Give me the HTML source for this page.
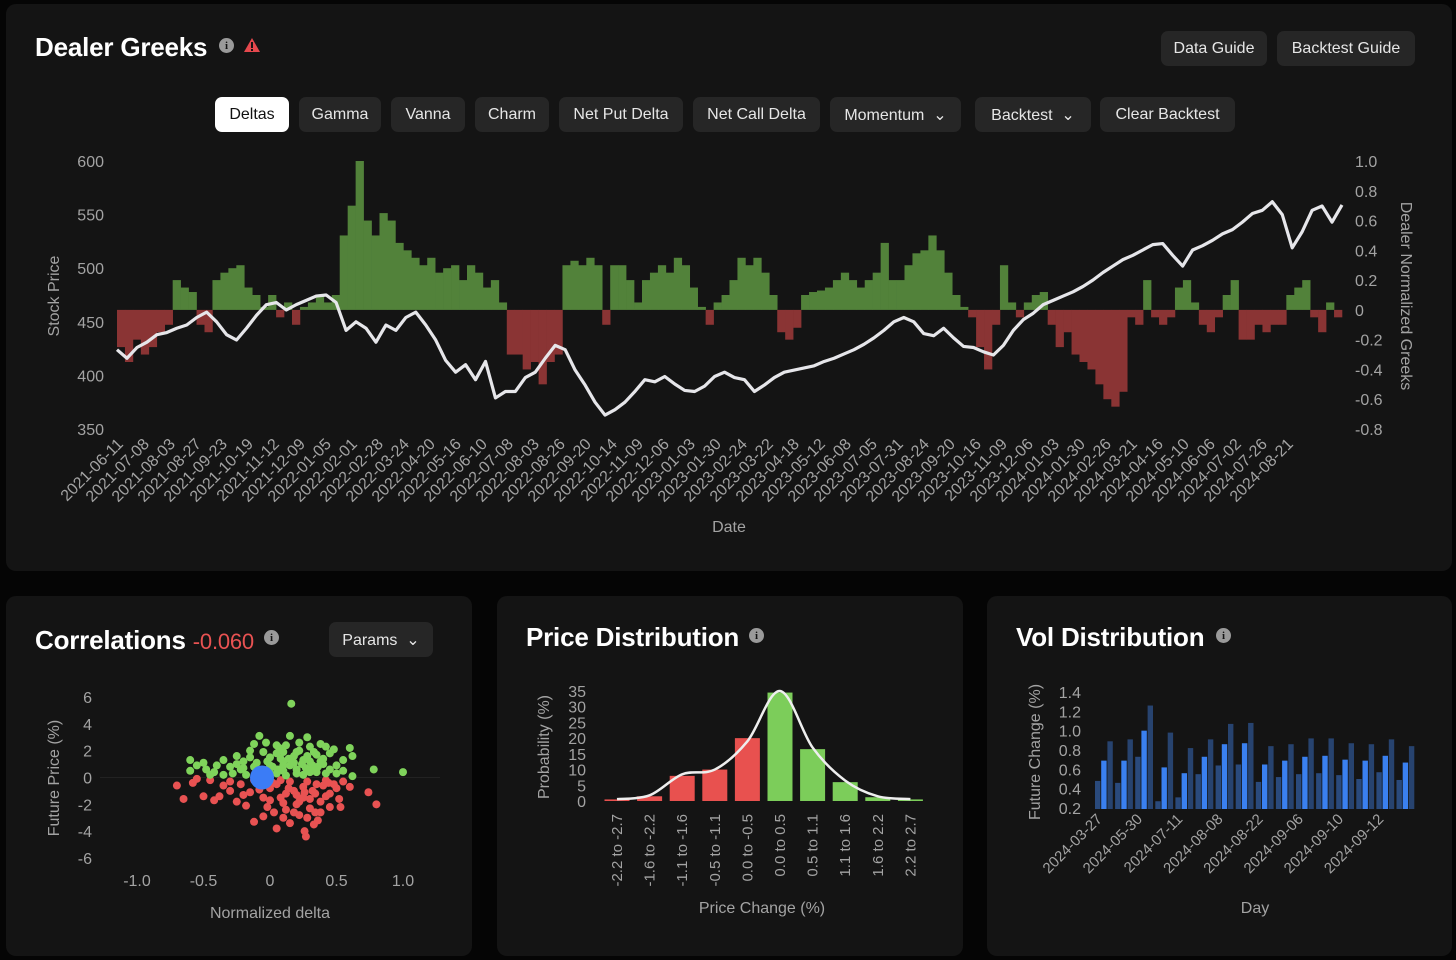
<!DOCTYPE html>
<html><head><meta charset="utf-8">
<style>
*{box-sizing:border-box;margin:0;padding:0}
body{width:1456px;height:960px;background:#050505;font-family:"Liberation Sans",sans-serif;overflow:hidden;position:relative}
.panel{position:absolute;background:#141414;border-radius:10px}
.btn{position:absolute;background:#262626;color:#e6e6e6;border-radius:7px;font-size:16px;display:flex;align-items:center;justify-content:center;height:35px}
.btn.active{background:#fff;color:#111}
.title{position:absolute;color:#fff;font-weight:bold;font-size:26px;letter-spacing:-0.2px}
.info{position:absolute;width:15px;height:15px;border-radius:50%;background:#9a9a9a;color:#141414;font-size:11px;font-weight:bold;display:flex;align-items:center;justify-content:center;font-family:"Liberation Serif",serif}
svg{position:absolute;left:0;top:0}
</style></head><body>
<div class="panel" style="left:6px;top:4px;width:1446px;height:567px"></div>
<div class="panel" style="left:6px;top:596px;width:466px;height:360px"></div>
<div class="panel" style="left:497px;top:596px;width:466px;height:360px"></div>
<div class="panel" style="left:987px;top:596px;width:465px;height:360px"></div>

<div class="title" style="left:35px;top:32px">Dealer Greeks</div>
<div class="info" style="left:219px;top:38px">i</div>
<svg style="left:243px;top:37px" width="18" height="16"><polygon points="9,1 17,15 1,15" fill="#e5484d"/><rect x="8" y="5" width="2" height="6" fill="#141414"/><rect x="8" y="12" width="2" height="2" fill="#141414"/></svg>
<div class="btn" style="left:1161px;top:31px;width:106px">Data Guide</div>
<div class="btn" style="left:1277px;top:31px;width:138px">Backtest Guide</div>

<div class="btn active" style="left:215px;top:97px;width:74px">Deltas</div>
<div class="btn" style="left:299px;top:97px;width:82px">Gamma</div>
<div class="btn" style="left:391px;top:97px;width:74px">Vanna</div>
<div class="btn" style="left:475px;top:97px;width:74px">Charm</div>
<div class="btn" style="left:559px;top:97px;width:124px">Net Put Delta</div>
<div class="btn" style="left:693px;top:97px;width:127px">Net Call Delta</div>
<div class="btn" style="left:830px;top:97px;width:131px">Momentum&nbsp;&nbsp;⌄</div>
<div class="btn" style="left:975px;top:97px;width:116px">Backtest&nbsp;&nbsp;⌄</div>
<div class="btn" style="left:1100px;top:97px;width:135px">Clear Backtest</div>

<div class="title" style="left:35px;top:625px">Correlations <span style="color:#e85252;font-weight:normal;font-size:22px">-0.060</span></div>
<div class="info" style="left:264px;top:630px">i</div>
<div class="btn" style="left:329px;top:622px;width:104px">Params&nbsp;&nbsp;⌄</div>
<div class="title" style="left:526px;top:622px">Price Distribution</div>
<div class="info" style="left:749px;top:628px">i</div>
<div class="title" style="left:1016px;top:622px">Vol Distribution</div>
<div class="info" style="left:1216px;top:628px">i</div>

<svg id="chart" width="1456" height="960"></svg>

<script>
// ===== Main chart data =====
const priceValues=[424,416,426,431,438,440,444,447,454,459,450,438,433,444,456,466,468,461,466,470,474,475,468,442,450,444,431,447,442,454,459,447,433,414,403,410,396,413,379,385,385,398,403,416,428,424,405,391,375,363,368,375,385,396,394,399,392,386,385,390,399,403,398,396,385,391,398,403,405,407,409,413,416,420,424,429,435,442,450,454,450,439,437,444,435,427,426,422,419,428,442,452,458,466,470,474,478,483,489,496,502,508,512,517,522,523,512,502,517,521,526,532,536,543,551,554,562,550,519,534,554,558,543,559];
const deltaValues=[-0.25,-0.35,-0.2,-0.3,-0.25,-0.15,-0.1,0.2,0.15,0.12,-0.1,-0.15,0.2,0.25,0.28,0.3,0.15,0.1,0.02,0.1,-0.05,0.05,-0.1,0.02,0.05,0.1,0.05,0.1,0.5,0.7,1.0,0.6,0.5,0.65,0.6,0.45,0.4,0.35,0.3,0.35,0.25,0.28,0.3,0.2,0.3,0.25,0.15,0.2,0.05,-0.3,-0.3,-0.4,-0.35,-0.5,-0.35,-0.3,0.3,0.33,0.3,0.35,0.3,-0.1,0.3,0.3,0.2,0.05,0.2,0.25,0.3,0.25,0.35,0.3,0.15,0.02,-0.1,0.05,0.1,0.2,0.35,0.3,0.35,0.25,0.1,-0.15,-0.2,-0.12,0.1,0.12,0.13,0.15,0.2,0.25,0.2,0.15,0.2,0.25,0.45,0.2,0.2,0.3,0.38,0.4,0.5,0.4,0.25,0.1,0.02,-0.05,-0.25,-0.4,-0.1,0.3,0.05,-0.05,0.05,0.1,0.12,-0.1,-0.25,-0.15,-0.3,-0.35,-0.4,-0.5,-0.6,-0.65,-0.55,-0.05,-0.1,0.2,-0.05,-0.1,-0.05,0.15,0.2,0.05,-0.1,-0.15,-0.05,0.1,0.2,-0.2,-0.2,-0.1,-0.15,-0.1,-0.1,0.1,0.15,0.2,-0.05,-0.15,0.05,-0.05];
const dateLabels=["2021-06-11","2021-07-08","2021-08-03","2021-08-27","2021-09-23","2021-10-19","2021-11-12","2021-12-09","2022-01-05","2022-02-01","2022-02-28","2022-03-24","2022-04-20","2022-05-16","2022-06-10","2022-07-08","2022-08-03","2022-08-26","2022-09-20","2022-10-14","2022-11-09","2022-12-06","2023-01-03","2023-01-30","2023-02-24","2023-03-22","2023-04-18","2023-05-12","2023-06-08","2023-07-05","2023-07-31","2023-08-24","2023-09-20","2023-10-16","2023-11-09","2023-12-06","2024-01-03","2024-01-30","2024-02-26","2024-03-21","2024-04-16","2024-05-10","2024-06-06","2024-07-02","2024-07-26","2024-08-21"];
const priceTicks=[600,550,500,450,400,350];
const greekTicks=[1.0,0.8,0.6,0.4,0.2,0,-0.2,-0.4,-0.6,-0.8];
// ===== Scatter data =====
const greenX=[-0.6,-0.6,-0.55,-0.5,-0.48,-0.42,-0.4,-0.35,-0.3,-0.28,-0.25,-0.22,-0.2,-0.18,-0.15,-0.12,-0.1,-0.08,-0.05,-0.03,0,0.02,0.05,0.07,0.1,0.12,0.15,0.16,0.18,0.2,0.22,0.25,0.28,0.3,0.32,0.35,0.38,0.4,0.42,0.45,0.48,0.5,0.55,0.6,0.62,0.62,0.78,1.0,-0.35,-0.2,0.05,0.1,0.25,0.35,0.45,-0.1,0,0.15,0.3,0.2,-0.05,0.08,0.4,-0.25,0.27,0.12,-0.15,0.05,0.22,0.33,0.5,-0.45,0.55,0.18,-0.02,0.1,0.36,0.28,0.42,0.0,0.06,0.14,0.24,0.32,0.38,-0.12,0.2,0.1,0.3];
const greenY=[1.3,0.5,0.9,1.1,0.6,0.4,0.9,1.3,0.8,0.3,1.6,0.6,1.2,0.2,2.0,2.5,1.1,3.1,0.5,2.6,1.5,0.8,1.8,2.2,1.2,2.4,3.1,5.5,1.6,0.6,2.0,1.3,3.0,2.3,0.9,1.7,2.5,1.0,0.3,1.8,2.1,0.9,1.3,2.2,1.6,0.1,0.6,0.4,0.2,0.7,0.3,0.5,0.2,0.4,0.6,0.4,0.9,0.9,1.2,1.9,1.9,1.4,1.4,1.0,0.7,0.15,1.5,2.4,2.6,1.9,0.3,0.2,0.5,1.1,1.2,1.9,0.8,1.6,2.3,0.3,0.6,1.4,1.0,0.5,1.2,0.8,0.3,0.9,0.4];
const redX=[-0.7,-0.65,-0.58,-0.5,-0.45,-0.42,-0.38,-0.35,-0.3,-0.25,-0.22,-0.18,-0.15,-0.12,-0.1,-0.05,-0.02,0,0.03,0.05,0.08,0.1,0.12,0.15,0.18,0.2,0.22,0.25,0.26,0.27,0.28,0.3,0.32,0.33,0.34,0.36,0.38,0.4,0.42,0.45,0.5,0.52,0.53,0.55,0.6,0.74,0.8,-0.55,-0.3,-0.08,0.05,0.15,0.2,0.35,0.1,0.25,0.45,-0.2,0.3,0,0.38,0.18,-0.05,0.42,0.12,0.28,0.48,0.08,-0.12,0.22,0.02,0.14,0.26,0.34,0.44];
const redY=[-0.6,-1.6,-0.4,-1.4,-0.2,-1.7,-1.4,-0.6,-1.0,-1.8,-0.5,-2.1,-1.1,-3.3,-0.4,-1.5,-2.2,-0.8,-2.6,-3.8,-1.5,-3.0,-2.4,-3.4,-1.0,-2.0,-2.8,-1.5,-4.0,-4.4,-3.0,-2.3,-1.0,-3.5,-2.6,-3.2,-1.8,-0.6,-1.4,-2.2,-0.8,-1.6,-2.2,-0.3,-0.7,-1.1,-2.0,-0.1,-0.3,-0.9,-0.5,-0.3,-1.3,-0.5,-1.9,-0.7,-1.2,-1.3,-1.6,-1.7,-2.6,-2.6,-2.9,-0.2,-1.2,-0.3,-0.5,-0.2,-0.2,-1.8,-0.4,-0.8,-1.1,-1.2,-0.4];
const meanX=[-0.06], meanY=[0];
const scatterXTicks=[-1.0,-0.5,0,0.5,1.0], scatterYTicks=[6,4,2,0,-2,-4,-6];
// ===== Price distribution data =====
const binLabels=["-2.2 to -2.7","-1.6 to -2.2","-1.1 to -1.6","-0.5 to -1.1","0.0 to -0.5","0.0 to 0.5","0.5 to 1.1","1.1 to 1.6","1.6 to 2.2","2.2 to 2.7"];
const binValues=[0.5,1.5,8,10,20,34.5,16.5,6,1.2,0.5];
const curveValues=[0.6,1.8,8.5,10,19,35,17,6.5,1.5,0.6];
const probTicks=[35,30,25,20,15,10,5,0];
// ===== Vol distribution data =====
const volLow=[0.48,0.46,0.73,0.27,0.31,0.55,0.64,0.65,0.47,0.52,0.55,0.56,0.54,0.50,0.57,0.49];
const volMid=[0.69,0.69,1.0,0.62,0.56,0.73,0.86,0.87,0.65,0.69,0.73,0.74,0.70,0.69,0.74,0.67];
const volHigh=[0.89,0.91,1.26,0.98,0.82,0.91,1.07,1.08,0.84,0.86,0.92,0.92,0.87,0.86,0.91,0.84];
const volDayLabels=["2024-03-27","2024-05-30","2024-07-11","2024-08-08","2024-08-22","2024-09-06","2024-09-10","2024-09-12"];
const volTicks=[1.4,1.2,1.0,0.8,0.6,0.4,0.2];

const svg=document.getElementById('chart');
const NS='http://www.w3.org/2000/svg';
function mk(tag,attrs,parent){const e=document.createElementNS(NS,tag);for(const k in attrs)e.setAttribute(k,attrs[k]);(parent||svg).appendChild(e);return e;}
function txt(s,attrs,parent){const e=mk('text',Object.assign({fill:'#a3a3a3','font-size':16,'font-family':'Liberation Sans, sans-serif'},attrs),parent);e.textContent=s;return e;}
function lin(d0,d1,r0,r1){return v=>r0+(v-d0)/(d1-d0)*(r1-r0);}
function smooth(pts){let d='M'+pts[0][0]+','+pts[0][1];for(let i=0;i<pts.length-1;i++){const p0=pts[i-1]||pts[i],p1=pts[i],p2=pts[i+1],p3=pts[i+2]||p2;d+=' C'+(p1[0]+(p2[0]-p0[0])/6)+','+(p1[1]+(p2[1]-p0[1])/6)+' '+(p2[0]-(p3[0]-p1[0])/6)+','+(p2[1]-(p3[1]-p1[1])/6)+' '+p2[0]+','+p2[1];}return d;}

// ---- Main chart ----
const mg=mk('g',{});


const X0=117,X1=1342;
const yP=lin(350,600,429,161), yG=lin(-0.8,1.0,429,161);
priceTicks.forEach(t=>{const e=txt(String(t),{x:104,y:yP(t)+6,'text-anchor':'end'},mg);});
greekTicks.forEach(t=>{const e=txt(t===0?'0':t.toFixed(1),{x:1355,y:yG(t)+6},mg);});
const bw=(X1-X0)/deltaValues.length;
const bars=mk('g',{},mg);


deltaValues.forEach((v,i)=>{const y0=yG(0),y1=yG(v);const r=mk('rect',{x:X0+i*bw,y:Math.min(y0,y1),width:bw+0.3,height:Math.abs(y1-y0),fill:v>=0?'#52823a':'#8a3434'},bars);});
const step=(X1-X0)/(priceValues.length-1);
const pl=mk('polyline',{points:priceValues.map((v,i)=>(X0+i*step)+','+yP(v)).join(' '),fill:'none',stroke:'#e6e6ea','stroke-width':3.2,'stroke-linejoin':'round'},mg);


dateLabels.forEach((s,i)=>{const x=124+i*26.0,y=445;const e=txt(s,{x:x,y:y,'text-anchor':'end',transform:`rotate(-45 ${x} ${y})`,'font-size':16},mg);});
let t=txt('Stock Price',{x:59,y:296,'text-anchor':'middle',transform:'rotate(-90 59 296)'},mg);
t=txt('Dealer Normalized Greeks',{x:1401,y:296,'text-anchor':'middle',transform:'rotate(90 1401 296)'},mg);
t=txt('Date',{x:729,y:532,'text-anchor':'middle'},mg);

// ---- Scatter ----
const sg=mk('g',{});


const sx=lin(-1,1,137,403), sy=lin(-6,6,858,697);
mk('line',{x1:100,x2:440,y1:sy(0),y2:sy(0),stroke:'#222','stroke-width':1},sg);
scatterYTicks.forEach(v=>{const e=txt(String(v),{x:92,y:sy(v)+6,'text-anchor':'end'},sg);});
scatterXTicks.forEach(v=>{const e=txt(v===0?'0':v.toFixed(1),{x:sx(v),y:886,'text-anchor':'middle'},sg);});
redX.forEach((v,i)=>{const c=mk('circle',{cx:sx(v),cy:sy(redY[i]),r:4,fill:'#e85252'},sg);});
greenX.forEach((v,i)=>{const c=mk('circle',{cx:sx(v),cy:sy(greenY[i]),r:4,fill:'#7fd35b'},sg);});
meanX.forEach((v,i)=>{const c=mk('circle',{cx:sx(v),cy:sy(meanY[i]),r:12,fill:'#3b7cf6'},sg);});
t=txt('Future Price (%)',{x:59,y:778,'text-anchor':'middle',transform:'rotate(-90 59 778)'},sg);
t=txt('Normalized delta',{x:270,y:918,'text-anchor':'middle'},sg);

// ---- Price distribution ----
const pg=mk('g',{});


const py=lin(0,35,801,691), pxc=i=>617+i*32.6;
probTicks.forEach(v=>{const e=txt(String(v),{x:586,y:py(v)+6,'text-anchor':'end'},pg);});
binValues.forEach((v,i)=>{const r=mk('rect',{x:pxc(i)-12.5,y:py(v),width:25,height:py(0)-py(v),fill:i<5?'#e8514f':'#7ccd5a'},pg);});
const cv=mk('path',{d:smooth(curveValues.map((v,i)=>[pxc(i),py(v)])),fill:'none',stroke:'#eeeeee','stroke-width':2.5},pg);


binLabels.forEach((s,i)=>{const x=pxc(i)+5,y=814;const e=txt(s,{x:x,y:y,'text-anchor':'end',transform:`rotate(-90 ${x} ${y})`,'font-size':15},pg);});
t=txt('Probability (%)',{x:549,y:747,'text-anchor':'middle',transform:'rotate(-90 549 747)'},pg);
t=txt('Price Change (%)',{x:762,y:913,'text-anchor':'middle'},pg);

// ---- Vol distribution ----
const vg=mk('g',{});


const vy=lin(0.2,1.4,808,692), gx=i=>1095+i*20.1;
volTicks.forEach(v=>{const e=txt(v.toFixed(1),{x:1081,y:vy(v)+6,'text-anchor':'end'},vg);});
[[volLow,'#2a4a7c',0],[volMid,'#3a80f0',6.2],[volHigh,'#27436f',12.4]].forEach(([arr,col,off])=>{arr.forEach((v,i)=>{const r=mk('rect',{x:gx(i)+off,y:vy(v),width:5.4,height:vy(0.2)-vy(v)+1,fill:col},vg);});});
volDayLabels.forEach((s,i)=>{const x=gx(i*2)+8,y=820;const e=txt(s,{x:x,y:y,'text-anchor':'end',transform:`rotate(-45 ${x} ${y})`,'font-size':15},vg);});
t=txt('Future Change (%)',{x:1040,y:752,'text-anchor':'middle',transform:'rotate(-90 1040 752)'},vg);
t=txt('Day',{x:1255,y:913,'text-anchor':'middle'},vg);
</script>
</body></html>
